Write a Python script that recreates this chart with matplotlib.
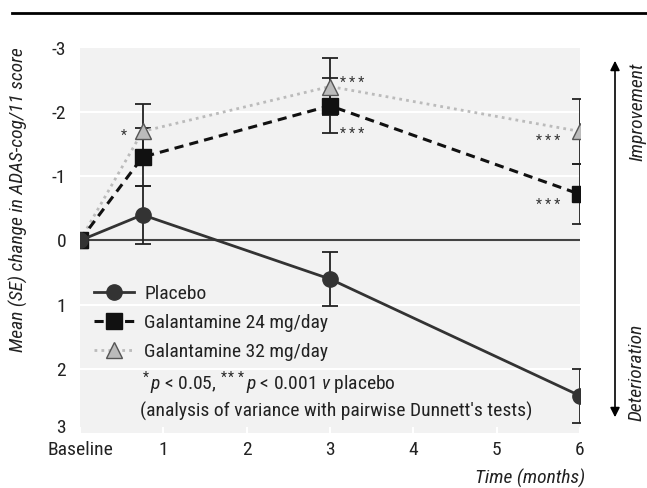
import matplotlib
matplotlib.use("Agg")
import matplotlib.pyplot as plt
from matplotlib.lines import Line2D

plt.rcParams['font.family'] = ['Roboto Condensed', 'DejaVu Sans']
plt.rcParams['mathtext.fontset'] = 'custom'
plt.rcParams['mathtext.rm'] = 'Roboto Condensed'
plt.rcParams['mathtext.it'] = 'Roboto Condensed:italic'

# data (months, mean change, SE)
months = [0, 0.75, 3, 6]
placebo = [0, -0.4, 0.6, 2.42]
placebo_se = [0, 0.45, 0.42, 0.42]
gal24 = [0, -1.3, -2.1, -0.72]
gal24_se = [0, 0.45, 0.43, 0.47]
gal32 = [0, -1.7, -2.4, -1.7]
gal32_se = [0, 0.42, 0.45, 0.5]

xticks = [0, 1, 2, 3, 4, 5, 6]
xlabels = ['Baseline', '1', '2', '3', '4', '5', '6']
yticks = [-3, -2, -1, 0, 1, 2, 3]

fig = plt.figure(figsize=(6.47, 4.88), dpi=100)
ax = fig.add_axes([80/647, 1-433/488, 500/647, 385/488])
ax.set_facecolor('#f2f2f2')
for s in ax.spines.values():
    s.set_visible(False)

for y in [-2, -1, 1, 2]:
    ax.axhline(y, color='white', lw=1.5, zorder=1)
ax.axhline(0, color='#444444', lw=1.5, zorder=2)

for vals, se in [(placebo, placebo_se), (gal24, gal24_se), (gal32, gal32_se)]:
    ax.errorbar(months[1:], vals[1:], yerr=se[1:], fmt='none',
                ecolor='#222222', elinewidth=1.3, capsize=5.5, capthick=1.3, zorder=3)

ax.plot(months, gal32, ls=(0, (1, 1.5)), color='#bbbbbb', lw=2,
        marker='^', ms=11, mfc='#bbbbbb', mec='#555555', mew=1,
        label='Galantamine 32 mg/day', zorder=4)
ax.plot(months, gal24, ls=(0, (3, 2)), color='#111111', lw=2.2,
        marker='s', ms=11, mfc='#111111', mec='#111111',
        label='Galantamine 24 mg/day', zorder=5)
ax.plot(months, placebo, ls='-', color='#333333', lw=2,
        marker='o', ms=11, mfc='#333333', mec='#333333',
        label='Placebo', zorder=6)

# significance stars
star_kw = dict(fontsize=10, color='#333333', va='center')
ax.text(0.56, -1.63, '*', ha='right', **star_kw)
ax.text(3.12, -2.45, '* * *', ha='left', **star_kw)
ax.text(3.12, -1.66, '* * *', ha='left', **star_kw)
ax.text(5.76, -1.55, '* * *', ha='right', **star_kw)
ax.text(5.76, -0.55, '* * *', ha='right', **star_kw)

ax.set_xlim(0, 6)
ax.set_ylim(3, -3)
ax.set_xticks(xticks)
ax.set_xticklabels(xlabels)
ax.set_yticks(yticks)
ax.set_yticklabels(['-3', '-2', '-1', '0', '1', '2', '3'])
ax.tick_params(axis='y', length=0, labelsize=14, pad=10, labelcolor='#222222')
ax.tick_params(axis='x', direction='in', length=4, color='white', width=1.5,
               labelsize=14, pad=6, labelcolor='#222222')
ax.get_yticklabels()[-1].set_va('baseline')

h, l = ax.get_legend_handles_labels()
leg = ax.legend(h[::-1], l[::-1], loc='upper left', bbox_to_anchor=(0.0, 0.419),
                frameon=False, fontsize=14, handlelength=2.1, handletextpad=0.5,
                labelspacing=0.55, borderaxespad=0.3)
for t in leg.get_texts():
    t.set_color('#222222')

ax.text(0.72, 2.22, r'$^*$$\it{p}$ < 0.05, $^{***}$$\it{p}$ < 0.001 $\it{v}$ placebo',
        fontsize=14, color='#222222', va='center')
ax.text(0.72, 2.67, "(analysis of variance with pairwise Dunnett's tests)",
        fontsize=14, color='#222222', va='center')

fig.text(18/647, 1-200/488, 'Mean (SE) change in ADAS-cog/11 score', rotation=90,
         style='italic', fontsize=14, color='#222222', ha='center', va='center')
fig.text(585/647, 1-478/488, 'Time (months)', style='italic', fontsize=14,
         color='#222222', ha='right', va='center')

# top rule
fig.add_artist(Line2D([12/647, 1], [1-13/488, 1-13/488], color='black', lw=2))

# direction arrow and labels
ax.annotate('', xy=(615/647, 1-58/488), xytext=(615/647, 1-420/488),
            xycoords='figure fraction', textcoords='figure fraction',
            arrowprops=dict(arrowstyle='<|-|>', color='black', lw=1.2,
                            mutation_scale=14))
fig.text(637/647, 1-112/488, 'Improvement', rotation=90, style='italic',
         fontsize=14, color='#222222', ha='center', va='center')
fig.text(637/647, 1-372/488, 'Deterioration', rotation=90, style='italic',
         fontsize=14, color='#222222', ha='center', va='center')

fig.savefig('out.png', dpi=100)
